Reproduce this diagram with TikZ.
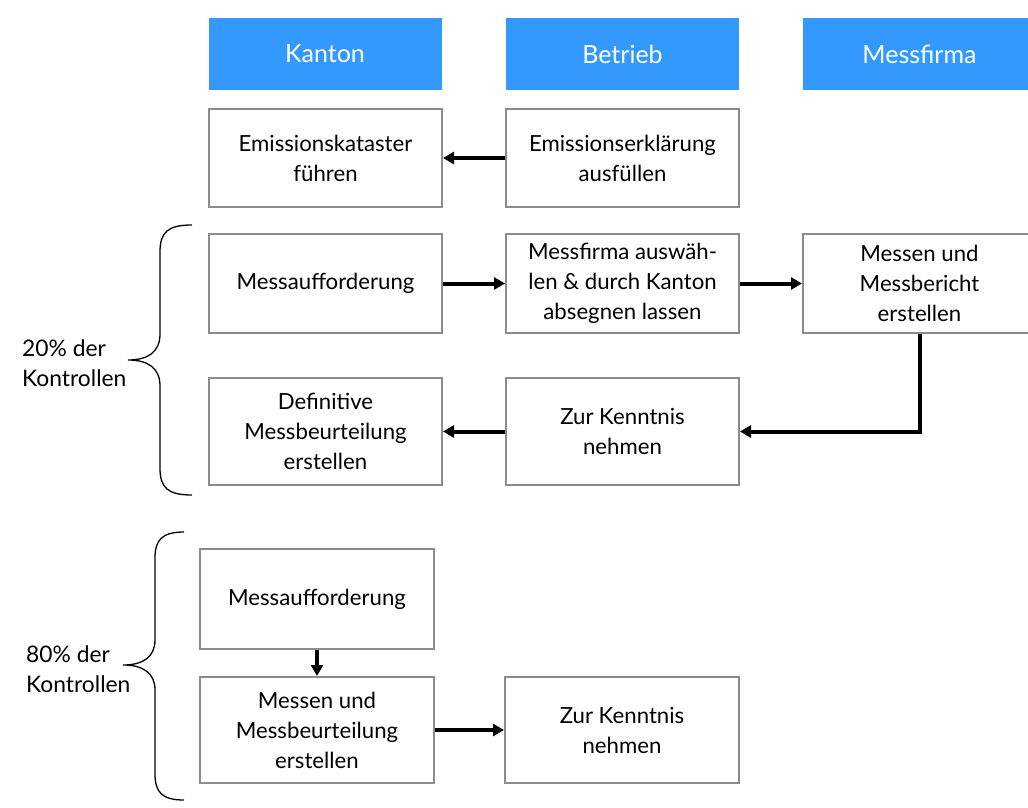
\documentclass[tikz,border=0pt]{standalone}
\usepackage{fontspec}
\setmainfont{Lato}
\usetikzlibrary{arrows.meta}
\definecolor{hdr}{HTML}{3399FF}
\definecolor{bordergray}{HTML}{8C8C8C}
\begin{document}
\begin{tikzpicture}[x=1pt,y=-1pt,
  hdrbox/.style={fill=hdr,draw=none,minimum width=233pt,minimum height=72pt,inner sep=0pt,text=white,font=\fontsize{25}{30}\selectfont},
  box/.style={draw=bordergray,line width=2pt,fill=white,minimum width=233pt,inner sep=0pt,align=center,font=\fontsize{22.2}{30}\selectfont},
  conn/.style={line width=4pt,-{Triangle[length=11pt,width=12pt]}},
  lbl/.style={align=left,anchor=west,inner sep=0pt,font=\fontsize{22.8}{30}\selectfont},
  brace/.style={line width=1.3pt}]
\useasboundingbox (0,0) rectangle (1028,808);
\clip (0,0) rectangle (1028,808);
% headers
\node[hdrbox] (hk) at (325,54) {Kanton};
\node[hdrbox] (hb) at (622.5,54) {Betrieb};
\node[hdrbox] (hm) at (919.5,54) {Messfirma};
% row 1
\node[box,minimum height=98pt] (ek) at (325.5,158) {Emissionskataster\\führen};
\node[box,minimum height=98pt] (ee) at (622.5,158) {Emissionserklärung\\ausfüllen};
% row 2
\node[box,minimum height=99pt] (ma) at (325.5,283.5) {Messaufforderung};
\node[box,minimum height=99pt] (mf) at (622.5,283.5) {Messfirma auswäh-\\len \& durch Kanton\\absegnen lassen};
\node[box,minimum height=99pt] (mm) at (919.5,283.5) {Messen und\\Messbericht\\erstellen};
% row 3
\node[box,minimum height=107pt] (dm) at (325.5,431.5) {Definitive\\Messbeurteilung\\erstellen};
\node[box,minimum height=107pt] (zk) at (622.5,431.5) {Zur Kenntnis\\nehmen};
% lower
\node[box,minimum height=100pt,minimum width=234pt] (ma2) at (317,599) {Messaufforderung};
\node[box,minimum height=106pt,minimum width=234pt] (mb2) at (317,730) {Messen und\\Messbeurteilung\\erstellen};
\node[box,minimum height=106pt,minimum width=234pt] (zk2) at (622,730) {Zur Kenntnis\\nehmen};
% connectors
\draw[conn] (ee) -- (ek);
\draw[conn] (ma) -- (mf);
\draw[conn] (mf) -- (mm);
\draw[conn] (mm.south) |- (zk.east);
\draw[conn] (zk) -- (dm);
\draw[conn] (ma2) -- (mb2);
\draw[conn] (mb2) -- (zk2);
% braces
\draw[brace] (192,225) .. controls (168,225) and (160,232) .. (160,252) -- (160,334)
  .. controls (160,352) and (148,360) .. (128,360)
  .. controls (148,360) and (160,368) .. (160,386) -- (160,468)
  .. controls (160,488) and (168,495) .. (192,495);
\draw[brace] (184,532) .. controls (162,532) and (155,540) .. (155,558) -- (155,640)
  .. controls (155,657) and (143,665) .. (123,665)
  .. controls (143,665) and (155,673) .. (155,690) -- (155,774)
  .. controls (155,792) and (162,800) .. (184,800);
\node[lbl] (l20) at (22,363) {20\% der\\Kontrollen};
\node[lbl] (l80) at (26,669) {80\% der\\Kontrollen};
\end{tikzpicture}
\end{document}
